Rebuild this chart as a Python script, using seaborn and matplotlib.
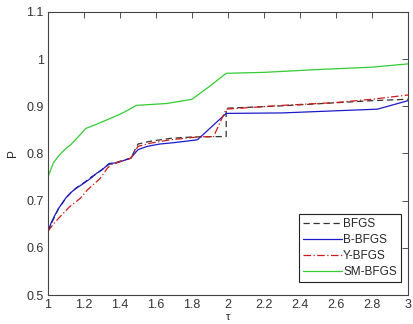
import matplotlib
matplotlib.use("Agg")
import matplotlib.pyplot as plt
import seaborn as sns

# performance profile values
tau_bfgs = [1.0, 1.02, 1.04, 1.06, 1.08, 1.1, 1.13, 1.16, 1.2, 1.24, 1.27, 1.3, 1.34, 1.38,
            1.42, 1.46, 1.5, 1.57, 1.68, 1.8, 1.99, 1.99, 2.3, 2.8, 3.0]
p_bfgs = [0.634, 0.652, 0.668, 0.684, 0.694, 0.706, 0.718, 0.728, 0.738, 0.75, 0.757, 0.766,
          0.777, 0.781, 0.786, 0.79, 0.82, 0.826, 0.832, 0.835, 0.836, 0.896, 0.901, 0.912, 0.915]

tau_bb = [1.0, 1.02, 1.04, 1.06, 1.08, 1.1, 1.13, 1.16, 1.2, 1.24, 1.27, 1.3, 1.34, 1.38,
          1.42, 1.46, 1.5, 1.55, 1.62, 1.7, 1.83, 1.99, 2.3, 2.83, 3.0]
p_bb = [0.634, 0.655, 0.67, 0.684, 0.695, 0.706, 0.718, 0.727, 0.737, 0.748, 0.758, 0.765,
        0.779, 0.78, 0.785, 0.79, 0.808, 0.815, 0.82, 0.823, 0.829, 0.885, 0.886, 0.894, 0.912]

tau_yb = [1.0, 1.03, 1.06, 1.12, 1.18, 1.22, 1.29, 1.33, 1.36, 1.42, 1.46, 1.5, 1.57, 1.68,
          1.83, 1.92, 1.99, 2.3, 2.6, 2.8, 3.0]
p_yb = [0.635, 0.65, 0.663, 0.687, 0.705, 0.723, 0.747, 0.769, 0.778, 0.785, 0.79, 0.815,
        0.822, 0.829, 0.835, 0.836, 0.894, 0.902, 0.908, 0.915, 0.924]

tau_sm = [1.0, 1.015, 1.03, 1.06, 1.09, 1.13, 1.17, 1.21, 1.27, 1.35, 1.41, 1.45, 1.49, 1.66,
          1.8, 1.9, 1.99, 2.2, 2.5, 2.8, 3.0]
p_sm = [0.75, 0.765, 0.78, 0.795, 0.807, 0.82, 0.836, 0.853, 0.862, 0.875, 0.885, 0.893,
        0.902, 0.906, 0.915, 0.943, 0.97, 0.972, 0.978, 0.983, 0.99]

x_ticks = [1, 1.2, 1.4, 1.6, 1.8, 2, 2.2, 2.4, 2.6, 2.8, 3]
y_ticks = [0.5, 0.6, 0.7, 0.8, 0.9, 1, 1.1]

sns.set_style("white")
plt.rcParams['font.family'] = ['Liberation Sans', 'DejaVu Sans']

fig = plt.figure(figsize=(4.13, 3.24), dpi=100)
ax = fig.add_axes([0.116, 0.0895, 0.872, 0.8735])

sns.lineplot(x=tau_bfgs, y=p_bfgs, ax=ax, color='#333333', linestyle=(0, (5, 3)), lw=0.9,
             label='BFGS', estimator=None, sort=False)
sns.lineplot(x=tau_bb, y=p_bb, ax=ax, color='#1a1acc', lw=0.9,
             label='B-BFGS', estimator=None, sort=False)
sns.lineplot(x=tau_yb, y=p_yb, ax=ax, color='#cc1a1a', linestyle=(0, (6, 2, 1, 2)), lw=0.9,
             label='Y-BFGS', estimator=None, sort=False)
sns.lineplot(x=tau_sm, y=p_sm, ax=ax, color='#33cc33', lw=0.9,
             label='SM-BFGS', estimator=None, sort=False)

ax.set_xlim(1, 3)
ax.set_ylim(0.5, 1.1)
ax.set_xticks(x_ticks)
ax.set_xticklabels([f'{v:g}' for v in x_ticks])
ax.set_yticks(y_ticks)
ax.set_yticklabels([f'{v:g}' for v in y_ticks])
ax.tick_params(direction='in', length=4, width=0.6, top=True, right=True,
               labelsize=9, colors='#333333', pad=3)
for s in ax.spines.values():
    s.set_color('#444444')
    s.set_linewidth(0.8)
ax.set_xlabel('τ', fontsize=8)
ax.xaxis.set_label_coords(0.5, -0.06)
ax.set_ylabel('P', fontsize=8.5, labelpad=5)

leg = ax.legend(loc='lower right', bbox_to_anchor=(0.98, 0.045), fontsize=8.5, fancybox=False,
                handlelength=3.3, handletextpad=0.1, borderpad=0.35, labelspacing=0.33,
                framealpha=1, borderaxespad=0)
leg.get_frame().set_edgecolor('#222222')
leg.get_frame().set_linewidth(0.8)

fig.savefig('out.png', dpi=100)
